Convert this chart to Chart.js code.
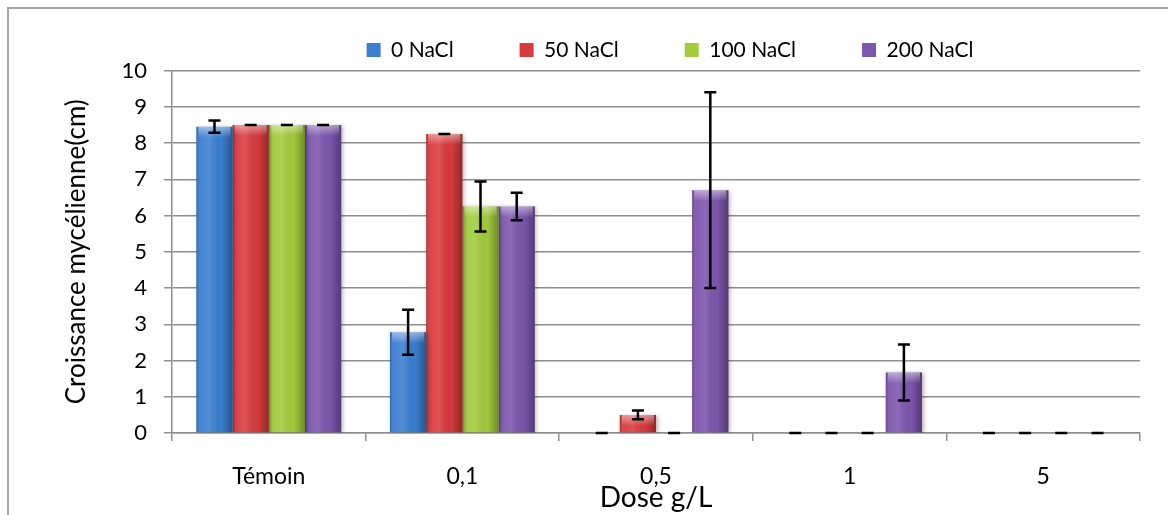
<!DOCTYPE html>
<html>
<head>
<meta charset="utf-8">
<script src="https://cdn.jsdelivr.net/npm/chart.js@4/dist/chart.umd.min.js"></script>
<style>
  html, body { margin: 0; padding: 0; background: #fff; }
  #wrap { position: relative; width: 1168px; height: 515px; }
</style>
</head>
<body>
<div id="wrap"><canvas id="growthChart"></canvas></div>
<script>
// mycelial growth (cm) per dose, one series per NaCl level
var doses = ['Témoin', '0,1', '0,5', '1', '5'];
var seriesNames = ['0 NaCl', '50 NaCl', '100 NaCl', '200 NaCl'];
var nacl0 = [8.45, 2.78, 0, 0, 0];
var nacl50 = [8.5, 8.25, 0.5, 0, 0];
var nacl100 = [8.5, 6.25, 0, 0, 0];
var nacl200 = [8.5, 6.25, 6.7, 1.67, 0];
var err0 = [0.17, 0.62, 0, 0, 0];
var err50 = [0, 0, 0.12, 0, 0];
var err100 = [0, 0.69, 0, 0, 0];
var err200 = [0, 0.38, 2.7, 0.77, 0];
var yTicks = [0, 1, 2, 3, 4, 5, 6, 7, 8, 9, 10];

var colors = ['#3b7fd2', '#d93b3d', '#a3cb3c', '#7d56ae'];
var errors = [err0, err50, err100, err200];

// white page with the grey frame round it
var framePlugin = {
    id: 'frame',
    beforeDraw: function (chart) {
        var ctx = chart.ctx;
        ctx.save();
        ctx.fillStyle = '#fff';
        ctx.fillRect(0, 0, chart.width, chart.height);
        ctx.strokeStyle = '#a6a6a6';
        ctx.lineWidth = 2;
        ctx.strokeRect(8, 8, chart.width + 20, chart.height + 20);
        ctx.restore();
    },
    afterLayout: function (chart) {
        // nudge the legend row a little to the right
        chart.legend.left += 14;
        chart.legend.right += 14;
    }
};

// soft shadow plus cylinder-like shading on each bar
var shadePlugin = {
    id: 'shade',
    beforeDatasetDraw: function (chart) {
        var ctx = chart.ctx;
        ctx.save();
        ctx.shadowColor = 'rgba(0,0,0,0.28)';
        ctx.shadowBlur = 4;
        ctx.shadowOffsetX = 1.5;
        ctx.shadowOffsetY = 1;
    },
    afterDatasetDraw: function (chart, args) {
        var ctx = chart.ctx;
        ctx.restore();
        args.meta.data.forEach(function (bar) {
            var p = bar.getProps(['x', 'y', 'base', 'width'], true);
            var h = p.base - p.y;
            if (h < 1) return;
            var left = p.x - p.width / 2;
            var g = ctx.createLinearGradient(left, 0, left + p.width, 0);
            g.addColorStop(0, 'rgba(0,0,0,0.22)');
            g.addColorStop(0.12, 'rgba(255,255,255,0.05)');
            g.addColorStop(0.35, 'rgba(255,255,255,0.12)');
            g.addColorStop(0.7, 'rgba(0,0,0,0.02)');
            g.addColorStop(1, 'rgba(0,0,0,0.32)');
            ctx.fillStyle = g;
            ctx.fillRect(left, p.y, p.width, h);
            var cap = Math.min(11, h);
            var gv = ctx.createLinearGradient(0, p.y, 0, p.y + cap);
            gv.addColorStop(0, 'rgba(255,255,255,0.45)');
            gv.addColorStop(1, 'rgba(255,255,255,0)');
            ctx.fillStyle = gv;
            ctx.fillRect(left + 2, p.y, p.width - 4, cap);
        });
    },
    afterDatasetsDraw: function (chart) {
        // error bars
        var ctx = chart.ctx;
        var yScale = chart.scales.y;
        ctx.save();
        ctx.strokeStyle = '#000';
        ctx.lineWidth = 2.5;
        chart.data.datasets.forEach(function (ds, di) {
            var meta = chart.getDatasetMeta(di);
            meta.data.forEach(function (bar, i) {
                var v = ds.data[i];
                var e = errors[di][i];
                var x = bar.x;
                var top = yScale.getPixelForValue(v + e);
                var bottom = yScale.getPixelForValue(v - e);
                ctx.beginPath();
                ctx.moveTo(x, top);
                ctx.lineTo(x, bottom);
                ctx.moveTo(x - 6, top);
                ctx.lineTo(x + 6, top);
                ctx.moveTo(x - 6, bottom);
                ctx.lineTo(x + 6, bottom);
                ctx.stroke();
            });
        });
        ctx.restore();
    }
};

Chart.defaults.font.family = 'Lato';
Chart.defaults.color = '#000';

var ctx = document.getElementById('growthChart').getContext('2d');

new Chart(ctx, {
    type: 'bar',
    data: {
        labels: doses,
        datasets: [nacl0, nacl50, nacl100, nacl200].map(function (vals, i) {
            return {
                label: seriesNames[i],
                data: vals,
                backgroundColor: colors[i],
                borderWidth: 0,
                categoryPercentage: 0.748,
                barPercentage: 1.0
            };
        })
    },
    options: {
        responsive: true,
        maintainAspectRatio: false,
        animation: false,
        layout: {
            padding: { top: -26.5, left: 0, right: 28, bottom: 0 }
        },
        plugins: {
            legend: {
                position: 'top',
                fullSize: false,
                labels: {
                    boxWidth: 14,
                    boxHeight: 14,
                    padding: 66,
                    font: { size: 21 }
                }
            },
            tooltip: { enabled: false }
        },
        scales: {
            x: {
                grid: {
                    offset: true,
                    drawOnChartArea: false,
                    drawTicks: true,
                    tickLength: 8,
                    color: '#8e8e8e',
                    lineWidth: 1.5
                },
                border: { color: '#8e8e8e', width: 1.5 },
                ticks: { padding: 22, font: { size: 23 } },
                title: {
                    display: true,
                    text: 'Dose g/L',
                    font: { size: 28 },
                    padding: { top: 0, bottom: 0 }
                },
                afterFit: function (scale) { scale.height = 82; }
            },
            y: {
                min: 0,
                max: 10,
                afterBuildTicks: function (scale) {
                    scale.ticks = yTicks.map(function (v) { return { value: v }; });
                },
                grid: {
                    color: '#8e8e8e',
                    lineWidth: 1.5,
                    tickLength: 8
                },
                border: { color: '#8e8e8e', width: 1.5 },
                ticks: { padding: 17, font: { size: 22 } },
                title: {
                    display: true,
                    text: 'Croissance mycélienne(cm)',
                    font: { size: 26 },
                    padding: { top: 61, bottom: 0 }
                },
                afterFit: function (scale) { scale.width = 172; }
            }
        }
    },
    plugins: [framePlugin, shadePlugin]
});
</script>
</body>
</html>
